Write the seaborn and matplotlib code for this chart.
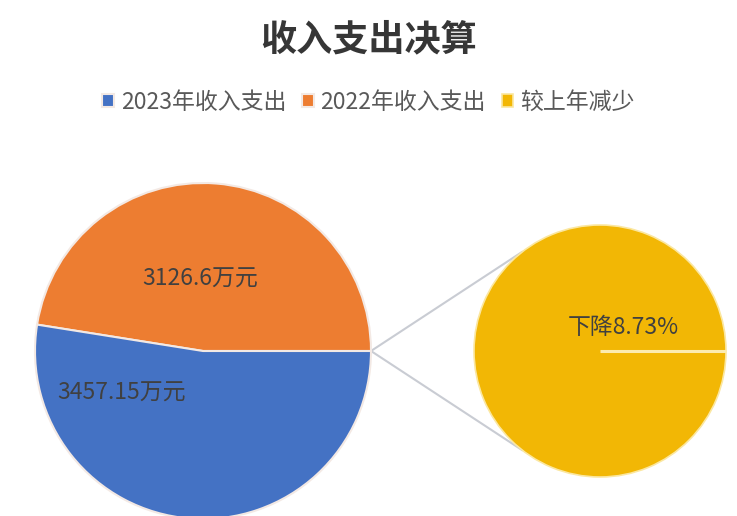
import matplotlib
matplotlib.use("Agg")
import matplotlib.pyplot as plt
import numpy as np
import seaborn as sns

# values
main_labels = ["2022年收入支出", "2023年收入支出"]
main_values = [3126.6, 3457.15]
main_texts = ["3126.6万元", "3457.15万元"]
sub_label = "较上年减少"
sub_values = [8.73]
sub_text = "下降8.73%"
title = "收入支出决算"

sns.set_theme(style="white")
plt.rcParams['font.family'] = ['Noto Sans CJK SC', 'DejaVu Sans']

blue, orange, yellow = "#4472C4", "#ED7D31", "#F2B705"
text_color = "#404040"

fig = plt.figure(figsize=(7.37, 5.16), dpi=100)
ax = fig.add_axes([0, 0, 1, 1])

# main pie
main_center, main_r = (203, 165), 168
main_wedges, _ = ax.pie(main_values, colors=[orange, blue], startangle=0,
                        center=main_center, radius=main_r, frame=True,
                        wedgeprops=dict(edgecolor="#F3E9E4", linewidth=1.5))

# second pie (the breakdown)
sub_center, sub_r = (600, 165), 126
sub_wedges, _ = ax.pie(sub_values, colors=[yellow], startangle=0,
                       center=sub_center, radius=sub_r, frame=True,
                       wedgeprops=dict(edgecolor="#FBE7A0", linewidth=1.2))
# slice border of the single full wedge
ax.plot([sub_center[0], sub_center[0] + sub_r], [sub_center[1]] * 2,
        color="#FCEBB0", lw=2.2, solid_capstyle="butt")

# connector lines
start = (main_center[0] + main_r, main_center[1])
for ang in (128, 232):
    t = np.deg2rad(ang)
    end = (sub_center[0] + sub_r * np.cos(t), sub_center[1] + sub_r * np.sin(t))
    ax.plot([start[0], end[0]], [start[1], end[1]], color="#C9CCD3", lw=1.5, zorder=0)

ax.set_xlim(0, 737)
ax.set_ylim(0, 516)
ax.set_aspect("equal")
ax.axis("off")

# data labels
ax.text(200, 237, main_texts[0], ha="center", va="center", fontsize=16.5, color=text_color)
ax.text(122, 123, main_texts[1], ha="center", va="center", fontsize=16.5, color=text_color)
ax.text(623, 188, sub_text, ha="center", va="center", fontsize=16.5, color=text_color)

fig.text(0.5, 0.922, title, ha="center", va="center", fontsize=26,
         fontweight="bold", color="#363636")

handles = [main_wedges[1], main_wedges[0], sub_wedges[0]]
labels = [main_labels[1], main_labels[0], sub_label]
fig.legend(handles, labels, loc="center", bbox_to_anchor=(0.5, 0.802), ncol=3,
           frameon=False, fontsize=16.5, handlelength=0.5, handleheight=0.5,
           handletextpad=0.3, columnspacing=0.7, labelcolor="#595959")

fig.savefig("out.png", dpi=100)
